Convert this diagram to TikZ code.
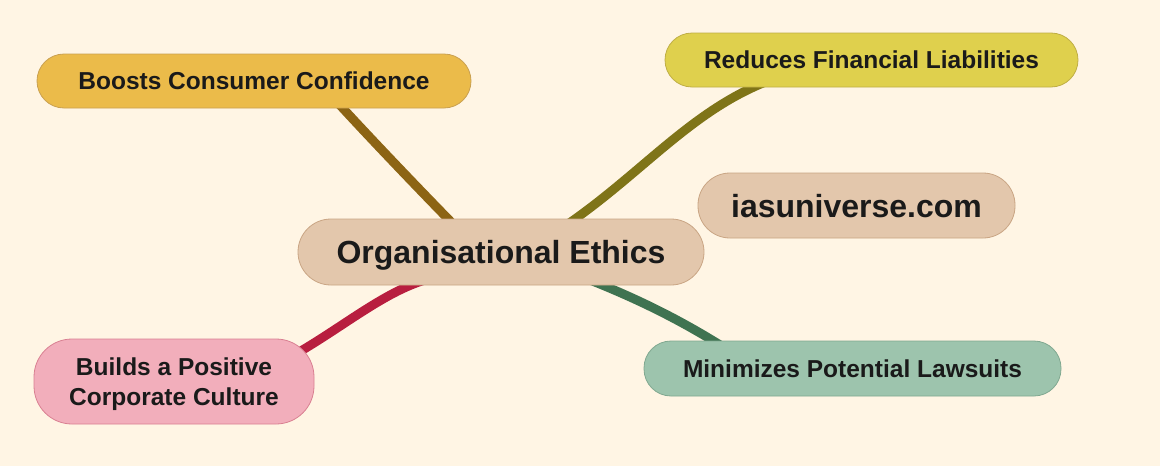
\documentclass[tikz,border=0pt]{standalone}
\usepackage{fontspec}
\setmainfont{Liberation Sans}
\usetikzlibrary{calc,backgrounds}
\definecolor{bgc}{HTML}{FFF5E4}
\definecolor{txt}{HTML}{1A1A1A}
\definecolor{ctrfill}{HTML}{E3C7AC}
\definecolor{ctrdraw}{HTML}{C9A584}
\definecolor{bfill}{HTML}{EBBB4A}
\definecolor{bdraw}{HTML}{C9A050}
\definecolor{rfill}{HTML}{DFD04D}
\definecolor{rdraw}{HTML}{BFAE45}
\definecolor{pfill}{HTML}{F2AEBB}
\definecolor{pdraw}{HTML}{D98092}
\definecolor{gfill}{HTML}{9DC4AD}
\definecolor{gdraw}{HTML}{80A890}
\definecolor{lbrown}{HTML}{8C6414}
\definecolor{lolive}{HTML}{7F7418}
\definecolor{lred}{HTML}{B81E3F}
\definecolor{lgreen}{HTML}{3F7351}
\tikzset{
  pill/.style={draw, line width=0.8pt, text=txt, font=\bfseries\fontsize{24.5}{30}\selectfont, inner sep=0pt, align=center, text depth=0pt},
  link/.style={line width=9pt, line cap=round},
}
\begin{document}
\begin{tikzpicture}[x=1pt,y=-1pt]
\useasboundingbox (0,0) rectangle (1160,466);
\node[pill, fill=ctrfill, draw=ctrdraw, minimum width=406pt, minimum height=66pt, rounded corners=33pt, font=\bfseries\fontsize{32}{38}\selectfont] (ctr) at (501,252) {Organisational Ethics};
\node[pill, fill=bfill, draw=bdraw, minimum width=434pt, minimum height=54pt, rounded corners=27pt] (boost) at (254,81) {Boosts Consumer Confidence};
\node[pill, fill=rfill, draw=rdraw, minimum width=413pt, minimum height=54pt, rounded corners=27pt] (red) at (871.5,60) {Reduces Financial Liabilities};
\node[pill, fill=ctrfill, draw=ctrdraw, minimum width=317pt, minimum height=65pt, rounded corners=32pt, font=\bfseries\fontsize{32}{38}\selectfont] (ias) at (856.5,205.5) {iasuniverse.com};
\node[pill, fill=pfill, draw=pdraw, minimum width=280pt, minimum height=85pt, rounded corners=38pt] (build) at (174,381.5) {\raisebox{14pt}{\parbox{260pt}{\centering Builds a Positive\\Corporate Culture}}};
\node[pill, fill=gfill, draw=gdraw, minimum width=417pt, minimum height=55pt, rounded corners=27pt] (mini) at (852.5,368.5) {Minimizes Potential Lawsuits};
\begin{scope}[on background layer]
\fill[bgc] (0,0) rectangle (1160,466);
\draw[link, lbrown] ($(boost.center)+(84,22)$) .. controls (372,140) and (415,185) .. ($(ctr.center)+(-46,-26)$);
\draw[link, lolive] ($(red.center)+(-106,22)$) .. controls (690,112) and (640,175) .. ($(ctr.center)+(64,-26)$);
\draw[link, lred] ($(build.center)+(126,-30)$) .. controls (345,325) and (385,292) .. ($(ctr.center)+(-76,28)$);
\draw[link, lgreen] ($(mini.center)+(-130,-22)$) .. controls (680,320) and (640,300) .. ($(ctr.center)+(89,28)$);
\end{scope}
\end{tikzpicture}
\end{document}
